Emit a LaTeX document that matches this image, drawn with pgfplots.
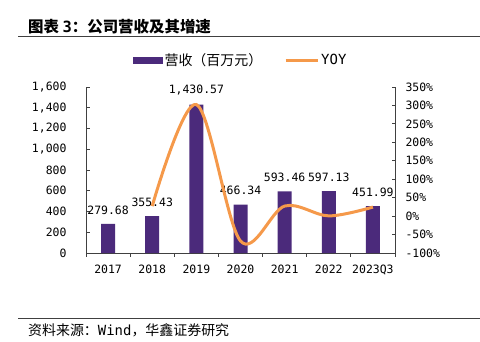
\documentclass[border=0pt]{standalone}
\usepackage{pgfplots}
\pgfplotsset{compat=1.18}
\usepackage{fontspec}
\setmainfont{Noto Sans CJK SC}
\newfontfamily\numfont{DejaVu Sans Mono}
\definecolor{barc}{HTML}{4B2A7B}
\definecolor{linec}{HTML}{F5994A}
\definecolor{axc}{HTML}{404040}
\begin{document}
\begin{tikzpicture}[x=1bp,y=1bp]
\useasboundingbox (0,0) rectangle (480,341);
\node[anchor=west,inner sep=0,font=\bfseries\fontsize{15.5}{17}\selectfont] at (28,314) {图表 {\numfont 3}：公司营收及其增速};
\draw[axc, line width=0.8bp] (18,305) -- (480,305);
\draw[axc, line width=0.8bp] (18,23) -- (480,23);
\node[anchor=west,inner sep=0,font=\fontsize{14}{15}\selectfont] at (28,11) {资料来源：{\numfont Wind}，华鑫证券研究};
\begin{axis}[at={(86bp,88bp)}, anchor=south west, scale only axis,
  width=309bp, height=166bp,
  xmin=-0.5, xmax=6.5, ymin=0, ymax=1600,
  axis y line*=left, axis x line*=bottom,
  axis line style={axc, line width=0.9bp},
  tick align=inside,
  xtick={0,...,6}, xticklabels={2017,2018,2019,2020,2021,2022,2023Q3},
  major x tick style={draw=none},
  minor xtick={-0.5,0.5,...,6.5},
  minor x tick style={axc, line width=0.9bp},
  minor tick length=3.5bp,
  ytick distance=200,
  y tick style={axc, line width=0.9bp}, major tick length=3.5bp,
  yticklabel style={/pgf/number format/1000 sep={,}, xshift=-16bp},
  xticklabel style={yshift=-5bp},
  /pgf/number format/assume math mode=true,
  tick label style={font=\numfont\fontsize{11.5}{13}\selectfont},
  ybar, bar width=14bp,
  nodes near coords,
  nodes near coords style={font=\numfont\fontsize{11.5}{13}\selectfont, anchor=south, yshift=6bp,
    /pgf/number format/fixed, /pgf/number format/fixed zerofill, /pgf/number format/precision=2, /pgf/number format/1000 sep={,}},
  legend style={at={(0.5,1)}, anchor=center, yshift=27bp, draw=none, fill=none,
    legend columns=2, font=\fontsize{14}{15}\selectfont,
    /tikz/every even column/.append style={column sep=20bp}},
  clip=false,
]
\addplot[fill=barc, draw=none,
  legend image code/.code={\fill[barc] (0bp,-3.5bp) rectangle (30bp,3.5bp);}]
  coordinates {(0,279.68) (1,355.43) (2,1430.57) (3,466.34) (4,593.46) (5,597.13) (6,451.99)};
\addlegendentry{营收（百万元）}
\addlegendimage{legend image code/.code={\draw[linec, line width=3bp] (0bp,0bp) -- (32bp,0bp);}}
\addlegendentry{\numfont YOY}
\end{axis}
\begin{axis}[at={(86bp,88bp)}, anchor=south west, scale only axis,
  width=309bp, height=166bp,
  xmin=-0.5, xmax=6.5, ymin=-100, ymax=350,
  axis y line*=right, axis x line=none,
  axis line style={axc, line width=0.9bp},
  tick align=inside,
  ytick distance=50,
  y tick style={axc, line width=0.9bp}, major tick length=3.5bp,
  yticklabel={\pgfmathprintnumber{\tick}\%},
  yticklabel style={xshift=7bp},
  /pgf/number format/assume math mode=true,
  tick label style={font=\numfont\fontsize{11.5}{13}\selectfont},
  clip=false,
]
\addplot[linec, line width=3bp, smooth, tension=0.55] coordinates {(1,27.1) (2,302.5) (3,-67.4) (4,27.3) (5,0.6) (6,24.5)};
\end{axis}
\end{tikzpicture}
\end{document}
